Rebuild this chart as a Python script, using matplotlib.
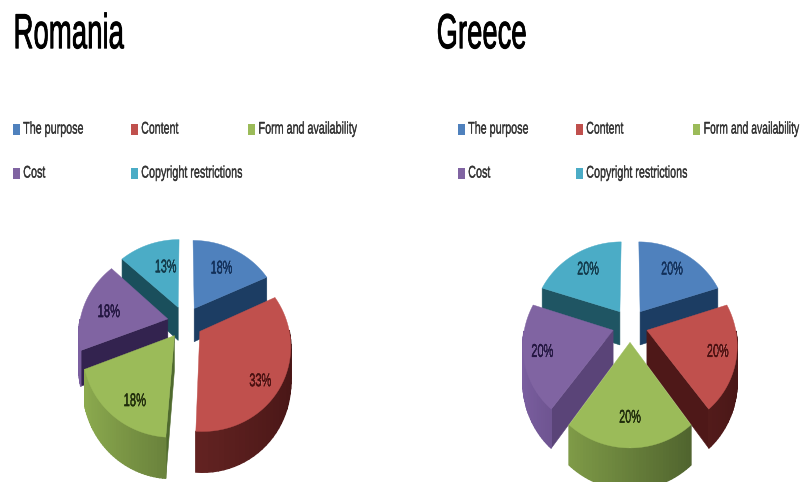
import numpy as np
import matplotlib
matplotlib.use('Agg')
import matplotlib.pyplot as plt
import matplotlib.patheffects as pe
from matplotlib.colors import to_rgb
from matplotlib.patches import Polygon, Rectangle

categories = ['The purpose', 'Content', 'Form and availability', 'Cost', 'Copyright restrictions']
romania_shares = [18, 33, 18, 18, 13]
greece_shares = [20, 20, 20, 20, 20]

top_colors = ['#4f81bd', '#c0504d', '#9bbb59', '#8064a2', '#4bacc6']
light_sides = ['#2f5a8a', '#7a2e2c', '#8fae50', '#7b5fa0', '#2f7a8c']
dark_sides = ['#1c3a5e', '#481616', '#3f5025', '#3e2c58', '#1c5060']
label_colors = ['#12305a', '#4a1010', '#1f2b0a', '#221540', '#123a4a']

plt.rcParams['font.family'] = ['Liberation Sans', 'DejaVu Sans']

fig = plt.figure(figsize=(8.02, 4.82), dpi=100)
ax = fig.add_axes([0, 0, 1, 1])
ax.set_xlim(0, 802)
ax.set_ylim(482, 0)
ax.axis('off')


def narrow(fraction, anchor=0.0):
    # no condensed face is installed, so squeeze the rendered text sideways
    def apply(img, dpi):
        h, w = img.shape[:2]
        new_w = max(1, int(round(w * fraction)))
        src = np.linspace(0, w - 1, new_w)
        left = np.floor(src).astype(int)
        right = np.minimum(left + 1, w - 1)
        weight = (src - left)[None, :, None]
        out = img[:, left] * (1 - weight) + img[:, right] * weight
        return out, int((w - new_w) * anchor), 0
    return apply


def thicken(txt, width):
    # squeezing thins the upright strokes, give them some weight back
    txt.set_path_effects([pe.withStroke(linewidth=width, foreground=txt.get_color())])


def project(u, v, pie):
    # flat pie coordinates to screen, nearer parts come out larger
    scale = 1 / (1 + pie['perspective'] * v)
    return pie['cx'] + pie['rx'] * u * scale, pie['cy'] - pie['ry'] * v * scale, scale


def draw_wall(x0, y0, s0, x1, y1, s1, color, pie, z, lw=0.4):
    depth = pie['depth']
    pts = [(x0, y0), (x1, y1), (x1, y1 + depth * s1), (x0, y0 + depth * s0)]
    ax.add_patch(Polygon(pts, closed=True, fc=color, ec=color, lw=lw, zorder=z))


def draw_pie(shares, pie, wall_colors, label_radius, label_shift):
    total = sum(shares)
    stops = np.radians(np.cumsum([0] + shares) / total * 360)
    mids = (stops[:-1] + stops[1:]) / 2
    # far slices go down first
    order = np.argsort(-np.cos(mids))
    for rank, i in enumerate(order):
        start, end, mid = stops[i], stops[i + 1], mids[i]
        angles = np.linspace(start, end, 40)
        off_u = pie['explode'] * np.sin(mid)
        off_v = pie['explode'] * np.cos(mid)
        xs, ys, scales = project(off_u + np.sin(angles), off_v + np.cos(angles), pie)
        tip_x, tip_y, tip_scale = project(off_u, off_v, pie)
        z = 2 + rank

        if np.cos(start - np.pi / 2) < 0:
            draw_wall(tip_x, tip_y, tip_scale, xs[0], ys[0], scales[0], wall_colors[i], pie, z)
        if np.cos(end + np.pi / 2) < 0:
            draw_wall(tip_x, tip_y, tip_scale, xs[-1], ys[-1], scales[-1], wall_colors[i], pie, z)

        light = np.array(to_rgb(light_sides[i]))
        dark = np.array(to_rgb(dark_sides[i]))
        for k in range(len(angles) - 1):
            seg = (angles[k] + angles[k + 1]) / 2
            if np.cos(seg) < 0:
                t = (np.sin(seg) + 1) / 2
                shade = light * (1 - t) + dark * t
                draw_wall(xs[k], ys[k], scales[k], xs[k + 1], ys[k + 1], scales[k + 1],
                          shade, pie, z, lw=1.0)

        top = [(tip_x, tip_y)] + list(zip(xs, ys))
        ax.add_patch(Polygon(top, closed=True, fc=top_colors[i], ec=top_colors[i], lw=0.3, zorder=z))

        r = label_radius[i]
        lx, ly, _ = project(r * np.sin(mid), r * np.cos(mid), pie)
        txt = ax.text(lx + label_shift[i][0], ly + label_shift[i][1], f'{shares[i]}%',
                      ha='center', va='center', fontsize=13,
                      color=label_colors[i], zorder=20)
        thicken(txt, 0.5)
        txt.set_agg_filter(narrow(0.62, 0.5))


def draw_legend(x_shift):
    col_x = [13, 131, 248, 13, 131]
    row_y = [129, 129, 129, 173, 173]
    for i, name in enumerate(categories):
        x, y = col_x[i] + x_shift, row_y[i]
        ax.add_patch(Rectangle((x, y - 5.5), 7, 11, fc=top_colors[i], ec='none'))
        if x + 110 > 802:
            # keep the long label inside the right edge
            txt = ax.text(800, y, name, ha='right', va='center', fontsize=12, color='#333333')
            txt.set_agg_filter(narrow(0.63, 1.0))
        else:
            txt = ax.text(x + 10, y, name, ha='left', va='center', fontsize=12, color='#333333')
            txt.set_agg_filter(narrow(0.65))
        thicken(txt, 0.4)


for name, x in [('Romania', 12), ('Greece', 436)]:
    title = ax.text(x, 48, name, fontsize=35, color='black', ha='left', va='baseline')
    thicken(title, 1.0)
    title.set_agg_filter(narrow(0.57))

draw_legend(0)
draw_legend(445)

romania_pie = dict(cx=185, cy=322, rx=88, ry=82, perspective=0.15, explode=0.2, depth=34)
greece_pie = dict(cx=630, cy=325, rx=88, ry=84, perspective=0.15, explode=0.2, depth=34)

draw_pie(romania_shares, romania_pie,
         ['#1c3d63', '#4e1818', '#4f6a2e', '#33234f', '#1a4f5c'],
         [0.85, 0.95, 1.0, 0.9, 0.85],
         [(0, 0), (0, 12), (9, 4), (0, 4), (7, 3)])
draw_pie(greece_shares, greece_pie,
         ['#1c3d63', '#4e1818', '#4f6a2e', '#5a4478', '#1f5563'],
         [0.9, 1.0, 0.95, 1.0, 0.9],
         [(0, 0), (0, 0), (0, 0), (0, 0), (0, 0)])

fig.savefig('out.png', dpi=100, facecolor='white')
